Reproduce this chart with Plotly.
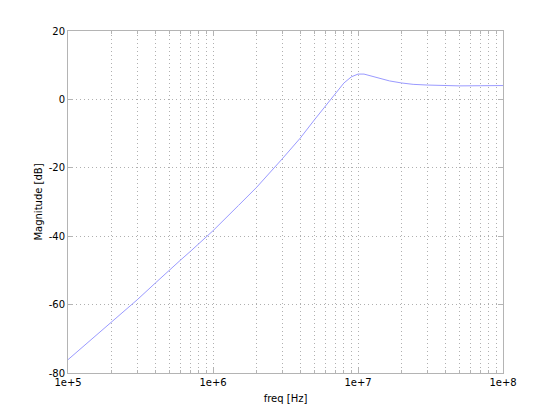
import plotly.graph_objects as go

freq_hz = [1e5, 2e5, 3e5, 4e5, 5e5, 6e5, 7e5, 8e5, 9e5, 1e6, 1.5e6, 2e6, 3e6, 4e6, 5e6,
           6e6, 7e6, 8e6, 9e6, 9.5e6, 1e7, 1.1e7, 1.2e7, 1.3e7, 1.4e7, 1.65e7, 2e7, 2.4e7,
           3e7, 4e7, 5e7, 7e7, 1e8]
magnitude_db = [-76.1, -65.2, -58.6, -53.7, -49.8, -46.9, -44.4, -42.2, -40.3, -38.4, -31.0,
                -25.7, -17.4, -11.3, -6.0, -1.8, 2.0, 4.8, 6.6, 7.1, 7.4, 7.4, 7.0, 6.5,
                6.1, 5.4, 4.8, 4.4, 4.2, 4.0, 3.95, 4.0, 4.05]

x_major_ticks = [1e5, 1e6, 1e7, 1e8]
x_major_labels = ["1e+5", "1e+6", "1e+7", "1e+8"]
x_minor_ticks = [m * d for d in (1e5, 1e6, 1e7) for m in range(2, 10)]
y_ticks = [-80, -60, -40, -20, 0, 20]
y_labels = ["-80", "-60", "-40", "-20", "0", "20"]

axis_col = "#b4b4b4"
grid_col = "#b0b0b0"

fig = go.Figure()
fig.add_trace(go.Scatter(x=freq_hz, y=magnitude_db, mode="lines",
                         line=dict(color="#9a9aff", width=1), showlegend=False))

fig.update_layout(
    width=533, height=408,
    margin=dict(l=60, r=38, t=23, b=43),
    paper_bgcolor="white", plot_bgcolor="white",
    font=dict(family="DejaVu Sans", size=10, color="black"),
    xaxis=dict(
        type="log", range=[5, 8], tickmode="array", tickvals=x_major_ticks,
        ticktext=x_major_labels, showline=True, linecolor=axis_col, linewidth=1,
        mirror="ticks", ticks="inside", ticklen=5, tickcolor=axis_col,
        showgrid=True, gridcolor=grid_col, gridwidth=1, griddash="1px,3px",
        zeroline=False,
        minor=dict(tickmode="array", tickvals=x_minor_ticks, showgrid=True,
                   gridcolor=grid_col, gridwidth=1, griddash="1px,3px",
                   ticks="inside", ticklen=3, tickcolor=axis_col),
        title=dict(text="freq [Hz]", standoff=7, font=dict(size=10)),
    ),
    yaxis=dict(
        range=[-80, 20], tickmode="array", tickvals=y_ticks, ticktext=y_labels,
        showline=True, linecolor=axis_col, linewidth=1, mirror="ticks",
        ticks="inside", ticklen=5, tickcolor=axis_col,
        showgrid=True, gridcolor=grid_col, gridwidth=1, griddash="1px,3px",
        zeroline=False,
        title=dict(text="Magnitude [dB]", standoff=4, font=dict(size=10)),
    ),
)

fig.write_html("out.html")
